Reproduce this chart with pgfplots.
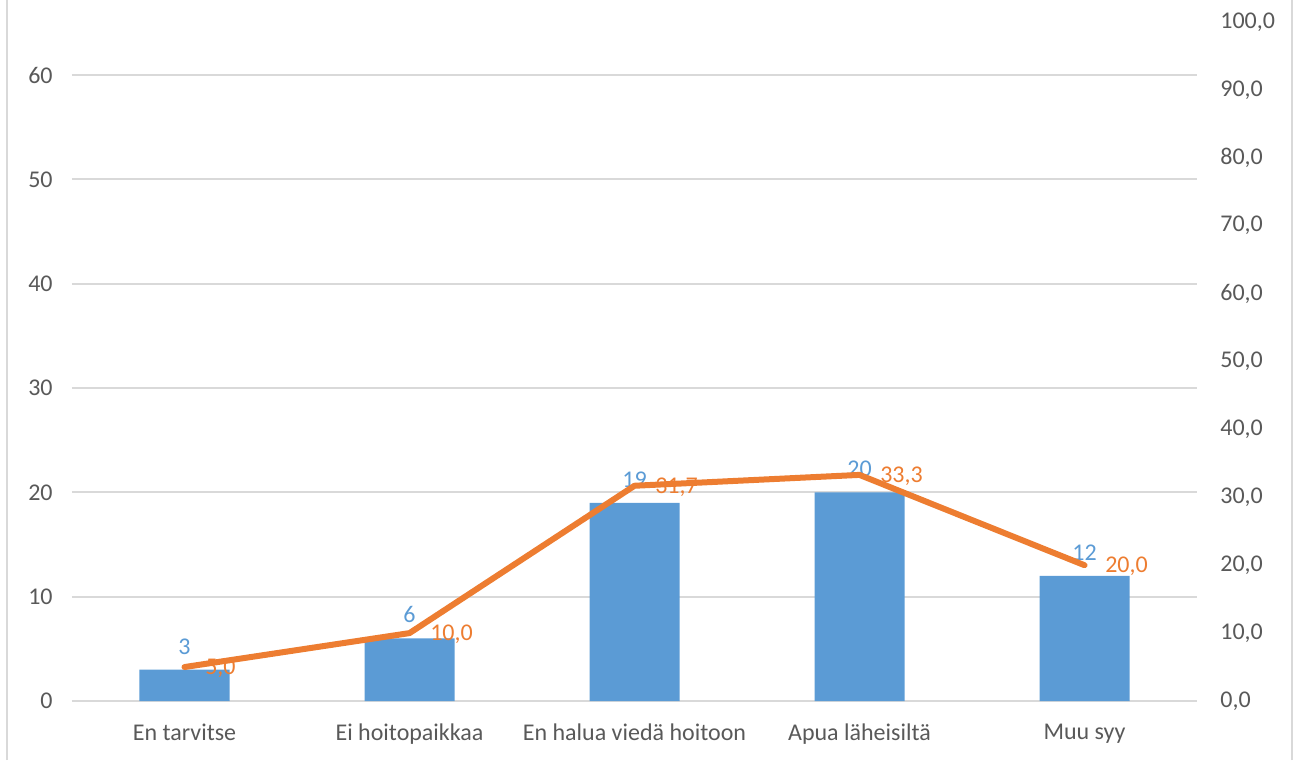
\documentclass[border=0pt]{standalone}
\usepackage{pgfplots}
\pgfplotsset{compat=1.18}
\usepackage{fontspec}
\setmainfont{Carlito}
\definecolor{barblue}{HTML}{5B9BD5}
\definecolor{lineorange}{HTML}{ED7D31}
\definecolor{gridgray}{HTML}{D9D9D9}
\definecolor{textgray}{HTML}{595959}
\begin{document}
\begin{tikzpicture}
\path[use as bounding box] (-54pt,-44.25pt) rectangle (917.25pt,525.75pt);
\draw[gridgray, line width=1.5pt] (-48.75pt,-44.25pt) -- (-48.75pt,525.75pt);
\draw[gridgray, line width=1.5pt] (915pt,-44.25pt) -- (915pt,525.75pt);
\begin{axis}[
  scale only axis, width=843.75pt, height=509.25pt,
  xmin=-0.5, xmax=4.5, ymin=0, ymax=65.08,
  ytick={0,10,...,60},
  xtick={0,1,2,3,4},
  xticklabels={En tarvitse, Ei hoitopaikkaa, En halua viedä hoitoon, Apua läheisiltä, Muu syy},
  ymajorgrids, grid style={gridgray, line width=1.5pt},
  axis line style={draw=none},
  major tick length=0pt, tick style={draw=none},
  font=\fontsize{18pt}{21pt}\selectfont,
  tick label style={text=textgray},
  /pgf/number format/assume math mode=true,
  yticklabel style={xshift=-11pt},
  xticklabel style={yshift=-13.5pt},
  clip=false,
]
\draw[gridgray, line width=1.5pt] (axis cs:-0.5,0) -- (axis cs:4.5,0);
\addplot[ybar, bar width=67.5pt, fill=barblue, draw=none,
  nodes near coords, every node near coord/.append style={text=barblue, font=\fontsize{18pt}{21pt}\selectfont, yshift=8pt}]
  coordinates {(0,3) (1,6) (2,19) (3,20) (4,12)};
\end{axis}
\begin{axis}[
  scale only axis, width=843.75pt, height=509.25pt,
  xmin=-0.5, xmax=4.5, ymin=0, ymax=100,
  axis x line=none, axis y line*=right,
  ytick={0,10,...,100},
  axis line style={draw=none},
  major tick length=0pt, tick style={draw=none},
  font=\fontsize{18pt}{21pt}\selectfont,
  tick label style={text=textgray},
  /pgf/number format/.cd, fixed, fixed zerofill, precision=1, use comma, assume math mode=true,
  /pgfplots/.cd,
  yticklabel style={xshift=14pt},
  clip=false,
]
\addplot[lineorange, line width=4.5pt, line join=round, line cap=round, mark=none,
  nodes near coords, every node near coord/.append style={anchor=west, text=lineorange, font=\fontsize{18pt}{21pt}\selectfont, xshift=10pt, yshift=-1pt}]
  coordinates {(0,5.0) (1,10.0) (2,31.7) (3,33.3) (4,20.0)};
\end{axis}
\end{tikzpicture}
\end{document}
